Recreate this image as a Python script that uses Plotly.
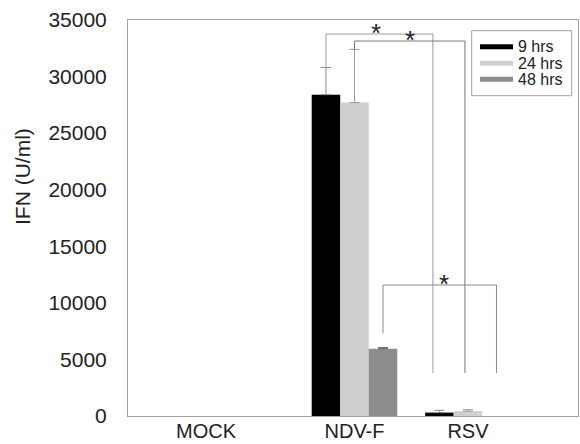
import plotly.graph_objects as go

# ---- data ----
categories = ["MOCK", "NDV-F", "RSV"]
series_names = ["9 hrs", "24 hrs", "48 hrs"]
ifn_9h = [0, 28400, 300]
ifn_24h = [0, 27700, 430]
ifn_48h = [0, 5950, 0]
err_9h = [0, 2400, 200]
err_24h = [0, 4700, 130]
err_48h = [0, 100, 0]
y_ticks = [0, 5000, 10000, 15000, 20000, 25000, 30000, 35000]

# ---- layout constants ----
W, H = 580, 444
ML, MR, MT, MB = 128, 2, 20, 28
group_pos = [0, 1, 1.764]
x_range = [-0.525, 2.505]
bar_w = 0.192
PXU = 148.5  # pixels per x unit
colors = ["#000000", "#cfcfcf", "#8c8c8c"]
err_colors = ["#8a8a8a", "#9a9a9a", "#666666"]
FONT = "Arial, Liberation Sans, sans-serif"

values = [ifn_9h, ifn_24h, ifn_48h]
errors = [err_9h, err_24h, err_48h]


def center(gi, si):
    return group_pos[gi] + (si - 1) * bar_w


fig = go.Figure()
for si, (name, vals, errs) in enumerate(zip(series_names, values, errors)):
    fig.add_trace(go.Bar(
        x=group_pos, y=vals, name=name,
        width=bar_w, offset=(si - 1.5) * bar_w,
        marker=dict(color=colors[si], line=dict(width=0)),
        showlegend=False, hoverinfo="skip",
    ))
for si, (vals, errs) in enumerate(zip(values, errors)):
    idx = [gi for gi, e in enumerate(errs) if e]
    fig.add_trace(go.Scatter(
        x=[center(gi, si) for gi in idx], y=[vals[gi] for gi in idx],
        mode="markers", marker=dict(size=1, opacity=0),
        error_y=dict(type="data", array=[errs[gi] for gi in idx],
                     arrayminus=[0] * len(idx), symmetric=False,
                     color=err_colors[si], thickness=1, width=5),
        showlegend=False, hoverinfo="skip",
    ))

# significance brackets (annotation geometry)
brackets = [
    # (series, top, left_bottom, right_bottom, color, right dx px, star dx px)
    (0, 33760, values[0][1] + errors[0][1], 3800, "#9a9a9a", -6.5, -3),
    (1, 33140, values[1][1] + errors[1][1], 3800, "#777777", -3, 0),
    (2, 11580, 7300, 3800, "#888888", 0, 4.5),
]
shapes = []
annotations = []
for si, top, lb, rb, col, rdx, sdx in brackets:
    x0 = center(1, si)
    x1 = center(2, si) + rdx / PXU
    line = dict(color=col, width=1)
    shapes.append(dict(type="line", xref="x", yref="y", x0=x0, x1=x0, y0=lb, y1=top, line=line))
    shapes.append(dict(type="line", xref="x", yref="y", x0=x0, x1=x1, y0=top, y1=top, line=line))
    shapes.append(dict(type="line", xref="x", yref="y", x0=x1, x1=x1, y0=top, y1=rb, line=line))
    annotations.append(dict(x=(x0 + x1) / 2 + sdx / PXU, y=top, xref="x", yref="y", text="*",
                            showarrow=False, yanchor="middle", yshift=1,
                            font=dict(family=FONT, size=26, color="#222222")))

# custom legend (paper coordinates)
PW, PH = W - ML - MR, H - MT - MB


def px(x):
    return (x - ML) / PW


def py(y):
    return (H - MB - y) / PH


shapes.append(dict(type="rect", xref="paper", yref="paper",
                   x0=px(471.7), x1=px(571.7), y0=py(95.7), y1=py(30.7),
                   line=dict(color="#a0a0a0", width=1), fillcolor="white"))
row_y = [46.7, 63.3, 79.3]
for si, name in enumerate(series_names):
    shapes.append(dict(type="line", xref="paper", yref="paper",
                       x0=px(480), x1=px(513), y0=py(row_y[si]), y1=py(row_y[si]),
                       line=dict(color=colors[si], width=5)))
    annotations.append(dict(x=px(515.5), y=py(row_y[si]), xref="paper", yref="paper",
                            text=name, showarrow=False, xanchor="left", yanchor="middle",
                            font=dict(family=FONT, size=16, color="#222222")))

# y title
annotations.append(dict(x=px(22), y=py(177), xref="paper", yref="paper",
                        text="IFN (U/ml)", textangle=-90, showarrow=False,
                        xanchor="center", yanchor="middle",
                        font=dict(family=FONT, size=21, color="#222222")))

fig.update_layout(
    width=W, height=H,
    margin=dict(l=ML, r=MR, t=MT, b=MB, pad=0),
    paper_bgcolor="white", plot_bgcolor="white",
    barmode="overlay", hovermode=False,
    shapes=shapes, annotations=annotations,
    font=dict(family=FONT, size=21, color="#222222"),
    xaxis=dict(range=x_range, tickvals=group_pos, ticktext=categories,
               showgrid=False, zeroline=False, showline=True, linecolor="#a0a0a0",
               linewidth=1, mirror=True, ticks="", automargin=False,
               ticklabelstandoff=-3, tickfont=dict(size=20)),
    yaxis=dict(range=[0, 35000], tickvals=y_ticks, tickformat="d",
               showgrid=False, zeroline=False, automargin=False,
               showline=True, linecolor="#a0a0a0", linewidth=1, mirror=True,
               ticks="", ticklabelstandoff=16, tickfont=dict(size=21)),
)

fig.write_html("out.html", config={"displayModeBar": False, "staticPlot": True},
               post_script="document.body.style.margin='0';document.body.style.overflow='hidden';")
